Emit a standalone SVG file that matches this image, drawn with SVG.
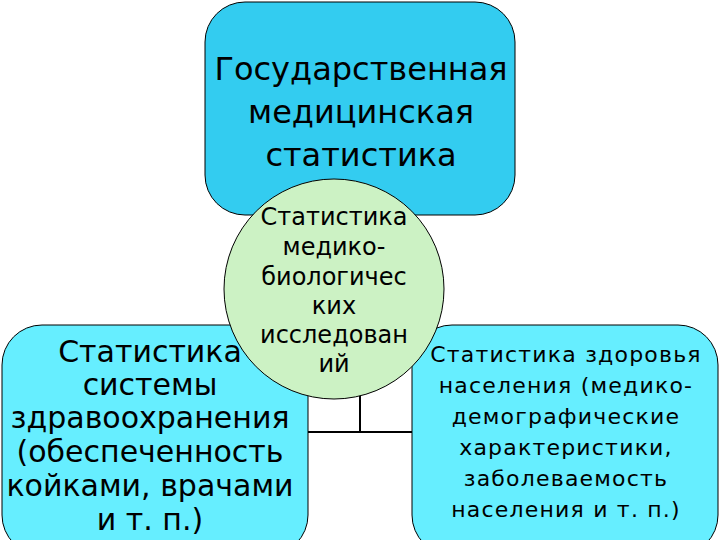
<svg xmlns="http://www.w3.org/2000/svg" width="720" height="540" viewBox="0 0 720 540">
<style>
.b{stroke:#000;stroke-width:1}
text{font-family:"DejaVu Sans",sans-serif;fill:#000;text-anchor:middle}
</style>
<rect width="720" height="540" fill="#fff"/>
<g id="top"><rect class="b" x="205" y="2" width="310" height="213" rx="40" fill="#33CCF0"/>
<text font-size="32"><tspan x="361" y="80">Государственная</tspan><tspan x="361" y="123">медицинская</tspan><tspan x="361" y="166">статистика</tspan></text></g>
<g id="left"><rect class="b" x="2" y="325" width="306" height="230" rx="40" fill="#66EEFF"/>
<text font-size="30"><tspan x="150" y="362">Статистика</tspan><tspan x="150" y="395">системы</tspan><tspan x="150" y="428">здравоохранения</tspan><tspan x="150" y="462">(обеспеченность</tspan><tspan x="150" y="496">койками, врачами</tspan><tspan x="150" y="530">и т. п.)</tspan></text></g>
<g id="right"><rect class="b" x="412" y="325" width="306" height="230" rx="40" fill="#66EEFF"/>
<text font-size="22" letter-spacing="1.2"><tspan x="566" y="362">Статистика здоровья</tspan><tspan x="566" y="393">населения (медико-</tspan><tspan x="566" y="424">демографические</tspan><tspan x="566" y="455">характеристики,</tspan><tspan x="566" y="486">заболеваемость</tspan><tspan x="566" y="517">населения и т. п.)</tspan></text></g>
<g id="connectors" stroke="#000" stroke-width="2"><line x1="360" y1="392" x2="360" y2="432"/><line x1="308" y1="432" x2="412" y2="432"/></g>
<g id="circle"><circle class="b" cx="334" cy="289" r="110" fill="#CCF2C4"/>
<text font-size="24"><tspan x="334" y="225">Статистика</tspan><tspan x="334" y="255">медико-</tspan><tspan x="334" y="285">биологичес</tspan><tspan x="334" y="314">ких</tspan><tspan x="334" y="343">исследован</tspan><tspan x="334" y="372">ий</tspan></text></g>
</svg>
